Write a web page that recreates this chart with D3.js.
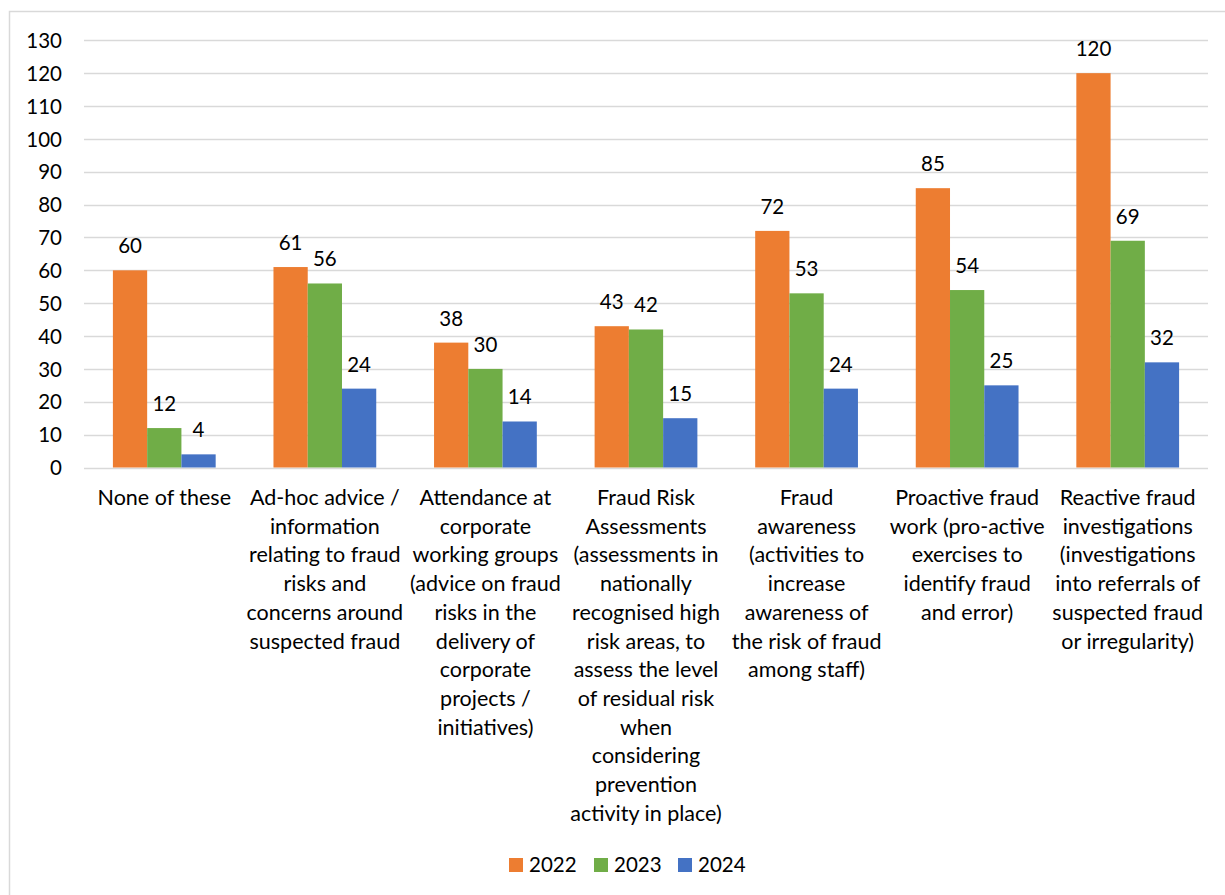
<!DOCTYPE html>
<html>
<head>
<meta charset="utf-8">
<script src="https://cdn.jsdelivr.net/npm/d3@7"></script>
<style>
  html, body { margin: 0; padding: 0; background: #fff; }
  svg { display: block; font-family: Lato, "Open Sans", sans-serif; }
</style>
</head>
<body>
<svg id="chart" width="1225" height="895"></svg>
<script>
const categories = [
  "None of these",
  "Ad-hoc advice /\ninformation\nrelating to fraud\nrisks and\nconcerns around\nsuspected fraud",
  "Attendance at\ncorporate\nworking groups\n(advice on fraud\nrisks in the\ndelivery of\ncorporate\nprojects /\ninitiatives)",
  "Fraud Risk\nAssessments\n(assessments in\nnationally\nrecognised high\nrisk areas, to\nassess the level\nof residual risk\nwhen\nconsidering\nprevention\nactivity in place)",
  "Fraud\nawareness\n(activities to\nincrease\nawareness of\nthe risk of fraud\namong staff)",
  "Proactive fraud\nwork (pro-active\nexercises to\nidentify fraud\nand error)",
  "Reactive fraud\ninvestigations\n(investigations\ninto referrals of\nsuspected fraud\nor irregularity)"
];
const seriesNames = ["2022", "2023", "2024"];
const values2022 = [60, 61, 38, 43, 72, 85, 120];
const values2023 = [12, 56, 30, 42, 53, 54, 69];
const values2024 = [4, 24, 14, 15, 24, 25, 32];
const colors = ["#ED7D31", "#70AD47", "#4472C4"];
const yTicks = [0, 10, 20, 30, 40, 50, 60, 70, 80, 90, 100, 110, 120, 130];

const seriesValues = [values2022, values2023, values2024];
const svg = d3.select("#chart");
const textColor = "#000";
const numSize = 20.5;
const catSize = 21.5;

// outer border (only left/top visible in the crop)
svg.append("path")
  .attr("d", "M9.5,895 L9.5,11.5 L1225,11.5")
  .attr("fill", "none").attr("stroke", "#d9d9d9").attr("stroke-width", 1.5);

const plot = { left: 84, right: 1208, top: 40.3, bottom: 467.5 };

const y = d3.scaleLinear().domain([0, 130]).range([plot.bottom, plot.top]);
const x0 = d3.scaleBand().domain(categories).range([plot.left, plot.right]).paddingInner(0.36).paddingOuter(0.18);
const x1 = d3.scaleBand().domain(seriesNames).range([0, x0.bandwidth()]);

// gridlines
svg.append("g").selectAll("line").data(yTicks).join("line")
  .attr("x1", plot.left).attr("x2", plot.right)
  .attr("y1", d => Math.round(y(d)) + 0.5).attr("y2", d => Math.round(y(d)) + 0.5)
  .attr("stroke", "#d9d9d9").attr("stroke-width", 1.5);

// y axis labels
const yAxis = d3.axisLeft(y).tickValues(yTicks).tickSize(0).tickPadding(0);
const gy = svg.append("g").attr("transform", `translate(62,0)`).call(yAxis);
gy.select(".domain").remove();
gy.selectAll("text").attr("font-size", numSize).attr("fill", textColor)
  .attr("font-family", "Lato, 'Open Sans', sans-serif").attr("dy", "0.35em");

// bars
const groups = svg.append("g").selectAll("g").data(categories).join("g")
  .attr("transform", d => `translate(${x0(d)},0)`);

groups.each(function(cat, ci) {
  const g = d3.select(this);
  seriesNames.forEach((s, si) => {
    const v = seriesValues[si][ci];
    g.append("rect")
      .attr("x", x1(s)).attr("width", x1.bandwidth())
      .attr("y", y(v)).attr("height", y(0) - y(v))
      .attr("fill", colors[si]);
    g.append("text")
      .attr("x", x1(s) + x1.bandwidth() / 2)
      .attr("y", y(v) - 17)
      .attr("text-anchor", "middle")
      .attr("font-size", numSize).attr("fill", textColor)
      .text(v);
  });
});

// category labels
const xAxis = svg.append("g");
categories.forEach(cat => {
  const cx = x0(cat) + x0.bandwidth() / 2;
  const t = xAxis.append("text")
    .attr("text-anchor", "middle")
    .attr("font-size", catSize).attr("fill", textColor);
  cat.split("\n").forEach((line, i) => {
    t.append("tspan").attr("x", cx).attr("y", 505 + i * 28.7).text(line);
  });
});

// legend
const legendX = [509, 594, 678];
const lg = svg.append("g");
seriesNames.forEach((s, i) => {
  lg.append("rect").attr("x", legendX[i]).attr("y", 858).attr("width", 14).attr("height", 14).attr("fill", colors[i]);
  lg.append("text").attr("x", legendX[i] + 20).attr("y", 872)
    .attr("font-size", numSize).attr("fill", textColor).text(s);
});
</script>
</body>
</html>
